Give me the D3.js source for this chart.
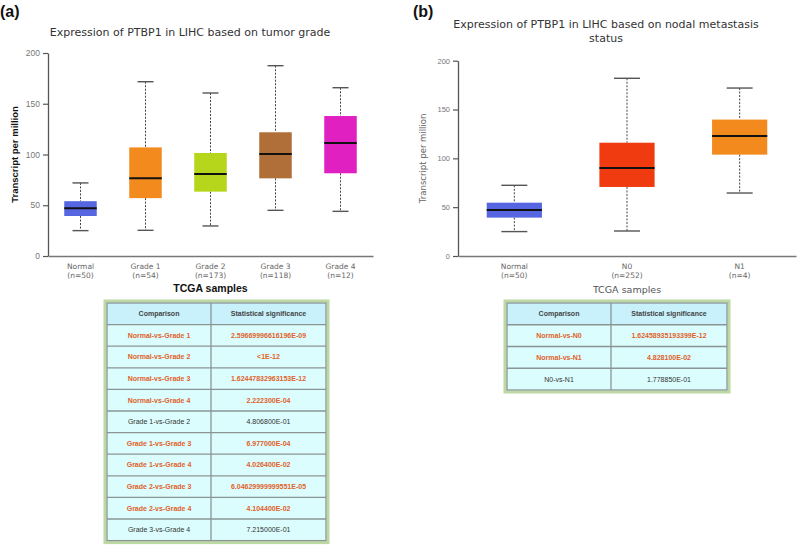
<!DOCTYPE html>
<html>
<head>
<meta charset="utf-8">
<script src="https://cdn.jsdelivr.net/npm/d3@7"></script>
<style>
  body { margin: 0; background: #fff; }
  svg { display: block; }
</style>
</head>
<body>
<script>
// panel (a): tumor grade
const gradeGroups = ["Normal", "Grade 1", "Grade 2", "Grade 3", "Grade 4"];
const gradeN = [50, 54, 173, 118, 12];
const gradeLow = [25, 25.3, 29.6, 45, 44];
const gradeQ1 = [39.4, 57, 63.4, 76.5, 81.5];
const gradeMed = [47, 76.5, 80.8, 100.5, 111.3];
const gradeQ3 = [54, 107, 101.5, 121.9, 137.9];
const gradeHigh = [72, 171.7, 160.6, 187.5, 165.8];
const gradeColors = ["#5566e0", "#f28a1e", "#b5d61a", "#b06e38", "#e020c0"];

// panel (b): nodal metastasis
const nodalGroups = ["Normal", "N0", "N1"];
const nodalN = [50, 252, 4];
const nodalLow = [25, 25.6, 64.5];
const nodalQ1 = [39.3, 70.7, 103.8];
const nodalMed = [47, 90, 123];
const nodalQ3 = [54.6, 116, 139.7];
const nodalHigh = [72.4, 182, 172];
const nodalColors = ["#5566e0", "#f03a10", "#f28a1e"];

const yTicks = [0, 50, 100, 150, 200];

// significance tables
const gradeComparisons = ["Normal-vs-Grade 1", "Normal-vs-Grade 2", "Normal-vs-Grade 3", "Normal-vs-Grade 4",
    "Grade 1-vs-Grade 2", "Grade 1-vs-Grade 3", "Grade 1-vs-Grade 4", "Grade 2-vs-Grade 3",
    "Grade 2-vs-Grade 4", "Grade 3-vs-Grade 4"];
const gradePvalues = ["2.59669996616196E-09", "<1E-12", "1.62447832963153E-12", "2.222300E-04",
    "4.806800E-01", "6.977000E-04", "4.026400E-02", "6.04629999999551E-05", "4.104400E-02", "7.215000E-01"];
const gradeSignificant = [true, true, true, true, false, true, true, true, true, false];

const nodalComparisons = ["Normal-vs-N0", "Normal-vs-N1", "N0-vs-N1"];
const nodalPvalues = ["1.62458935193399E-12", "4.828100E-02", "1.778850E-01"];
const nodalSignificant = [true, true, false];

const svg = d3.select("body").append("svg")
    .attr("width", 800)
    .attr("height", 546);

function drawBoxplot(cfg) {
    const g = svg.append("g");
    const x = d3.scaleBand().domain(cfg.groups).range([cfg.left, cfg.right]);
    const y = d3.scaleLinear().domain([0, 200]).range([256, cfg.top]);
    const bw = x.bandwidth() * cfg.boxFrac;

    const rows = cfg.groups.map((name, i) => ({
        name: name, n: cfg.n[i], low: cfg.low[i], q1: cfg.q1[i], med: cfg.med[i],
        q3: cfg.q3[i], high: cfg.high[i], color: cfg.colors[i]
    }));

    // y axis
    const ya = g.append("g")
        .attr("transform", "translate(" + cfg.left + ",0)")
        .call(d3.axisLeft(y).tickValues(yTicks).tickSize(5).tickSizeOuter(0));
    ya.select(".domain").attr("stroke", "#555").attr("stroke-width", 1.3);
    ya.selectAll(".tick line").attr("stroke", "#555").attr("stroke-width", 1.2);
    ya.selectAll(".tick text")
        .attr("fill", "#777")
        .attr("font-family", "Liberation Sans, Arial, sans-serif")
        .attr("font-size", cfg.yTickSize);

    // x axis
    const xa = g.append("g")
        .attr("transform", "translate(0,256)")
        .call(d3.axisBottom(x).tickSize(0).tickSizeOuter(0).tickPadding(8));
    xa.select(".domain").attr("stroke", "#777").attr("stroke-width", 1.3);
    xa.selectAll(".tick text")
        .attr("fill", "#666")
        .attr("font-family", "DejaVu Sans, sans-serif")
        .attr("font-size", 7.5)
        .each(function (d, i) {
            const t = d3.select(this);
            t.text(null);
            t.append("tspan").attr("x", 0).text(d);
            t.append("tspan").attr("x", 0).attr("dy", "1.2em").text("(n=" + cfg.n[i] + ")");
        });

    // whiskers
    const box = g.selectAll(".box").data(rows).enter().append("g")
        .attr("class", "box")
        .attr("transform", d => "translate(" + (x(d.name) + x.bandwidth() / 2) + ",0)");

    box.append("line")
        .attr("y1", d => y(d.high)).attr("y2", d => y(d.q3))
        .attr("stroke", "#444").attr("stroke-width", 1).attr("stroke-dasharray", "2,1.5");
    box.append("line")
        .attr("y1", d => y(d.q1)).attr("y2", d => y(d.low))
        .attr("stroke", "#444").attr("stroke-width", 1).attr("stroke-dasharray", "2,1.5");
    box.append("line")
        .attr("x1", -cfg.cap).attr("x2", cfg.cap)
        .attr("y1", d => y(d.high)).attr("y2", d => y(d.high))
        .attr("stroke", "#555").attr("stroke-width", 1.4);
    box.append("line")
        .attr("x1", -cfg.cap).attr("x2", cfg.cap)
        .attr("y1", d => y(d.low)).attr("y2", d => y(d.low))
        .attr("stroke", "#555").attr("stroke-width", 1.4);

    box.append("rect")
        .attr("x", -bw / 2).attr("width", bw)
        .attr("y", d => y(d.q3))
        .attr("height", d => y(d.q1) - y(d.q3))
        .attr("fill", d => d.color);
    box.append("line")
        .attr("x1", -bw / 2).attr("x2", bw / 2)
        .attr("y1", d => y(d.med)).attr("y2", d => y(d.med))
        .attr("stroke", "#111").attr("stroke-width", 2);

    // titles
    const title = g.append("text")
        .attr("x", cfg.titleX).attr("y", cfg.titleY)
        .attr("text-anchor", "middle")
        .attr("fill", "#333")
        .attr("font-family", "DejaVu Sans, sans-serif")
        .attr("font-size", 11);
    cfg.title.forEach((line, i) => {
        title.append("tspan").attr("x", cfg.titleX).attr("dy", i === 0 ? 0 : 13.5).text(line);
    });

    g.append("text")
        .attr("x", (cfg.left + cfg.right) / 2).attr("y", cfg.xLabelY)
        .attr("text-anchor", "middle")
        .attr("fill", cfg.bold ? "#111" : "#555")
        .attr("font-family", cfg.bold ? "Liberation Sans, Arial, sans-serif" : "DejaVu Sans, sans-serif")
        .attr("font-weight", cfg.bold ? "bold" : "normal")
        .attr("font-size", cfg.bold ? 10.5 : 9.5)
        .text("TCGA samples");

    g.append("text")
        .attr("transform", "translate(" + cfg.yLabelX + "," + ((256 + cfg.top) / 2) + ") rotate(-90)")
        .attr("text-anchor", "middle")
        .attr("fill", cfg.bold ? "#111" : "#666")
        .attr("font-family", cfg.bold ? "Liberation Sans, Arial, sans-serif" : "DejaVu Sans, sans-serif")
        .attr("font-weight", cfg.bold ? "bold" : "normal")
        .attr("font-size", cfg.bold ? 9.5 : 8.5)
        .text("Transcript per million");

    g.append("text")
        .attr("x", cfg.tagX).attr("y", 17)
        .attr("font-family", "Liberation Sans, Arial, sans-serif")
        .attr("font-weight", "bold")
        .attr("font-size", 16)
        .attr("fill", "#111")
        .text(cfg.tag);
}

function drawTable(cfg) {
    const g = svg.append("g");
    const rowH = cfg.rowH;
    const nRows = cfg.comparisons.length + 1;
    const w = cfg.right - cfg.left;
    const h = rowH * nRows;

    // outer green frame
    g.append("rect")
        .attr("x", cfg.left - 2).attr("y", cfg.top - 2)
        .attr("width", w + 4).attr("height", h + 4)
        .attr("fill", "none").attr("stroke", "#bcd9a4").attr("stroke-width", 3);

    const rows = [{c: "Comparison", p: "Statistical significance", head: true}]
        .concat(cfg.comparisons.map((c, i) => ({c: c, p: cfg.pvalues[i], sig: cfg.significant[i]})));

    const yRow = d3.scaleBand().domain(d3.range(nRows)).range([cfg.top, cfg.top + h]);

    const r = g.selectAll(".row").data(rows).enter().append("g")
        .attr("transform", (d, i) => "translate(0," + yRow(i) + ")");
    r.append("rect")
        .attr("x", cfg.left).attr("width", w).attr("height", rowH)
        .attr("fill", d => d.head ? "#c8f1fb" : "#dcfdfd");

    // grid lines
    rows.forEach((d, i) => {
        if (i > 0) {
            g.append("line")
                .attr("x1", cfg.left).attr("x2", cfg.right)
                .attr("y1", yRow(i)).attr("y2", yRow(i))
                .attr("stroke", "#8a9595").attr("stroke-width", 1.3);
        }
    });
    g.append("line")
        .attr("x1", cfg.split).attr("x2", cfg.split)
        .attr("y1", cfg.top).attr("y2", cfg.top + h)
        .attr("stroke", "#8a9595").attr("stroke-width", 1.3);
    g.append("rect")
        .attr("x", cfg.left).attr("y", cfg.top)
        .attr("width", w).attr("height", h)
        .attr("fill", "none").attr("stroke", "#8a9595").attr("stroke-width", 1.3);

    const cells = [[d => d.c, (cfg.left + cfg.split) / 2], [d => d.p, (cfg.split + cfg.right) / 2]];
    cells.forEach(([acc, cx]) => {
        r.append("text")
            .attr("x", cx).attr("y", rowH / 2 + 2.5)
            .attr("text-anchor", "middle")
            .attr("font-family", "Liberation Sans, Arial, sans-serif")
            .attr("font-size", 7)
            .attr("font-weight", d => (d.head || d.sig) ? "bold" : "normal")
            .attr("fill", d => d.head ? "#444" : (d.sig ? "#e0612a" : "#333"))
            .text(acc);
    });
}

drawBoxplot({
    groups: gradeGroups, n: gradeN, low: gradeLow, q1: gradeQ1, med: gradeMed, q3: gradeQ3,
    high: gradeHigh, colors: gradeColors,
    left: 48, right: 373, top: 53, boxFrac: 0.5, cap: 8, yTickSize: 8.5,
    title: ["Expression of PTBP1 in LIHC based on tumor grade"], titleX: 190, titleY: 36,
    xLabelY: 292, yLabelX: 18, bold: true, tag: "(a)", tagX: 0
});

drawBoxplot({
    groups: nodalGroups, n: nodalN, low: nodalLow, q1: nodalQ1, med: nodalMed, q3: nodalQ3,
    high: nodalHigh, colors: nodalColors,
    left: 458, right: 796, top: 60.7, boxFrac: 0.49, cap: 13, yTickSize: 7.5,
    title: ["Expression of PTBP1 in LIHC based on nodal metastasis", "status"], titleX: 606, titleY: 28,
    xLabelY: 293, yLabelX: 426, bold: false, tag: "(b)", tagX: 413
});

drawTable({
    comparisons: gradeComparisons, pvalues: gradePvalues, significant: gradeSignificant,
    left: 107, right: 326, split: 211, top: 303, rowH: 21.6
});

drawTable({
    comparisons: nodalComparisons, pvalues: nodalPvalues, significant: nodalSignificant,
    left: 507, right: 727, split: 611, top: 303, rowH: 21.75
});
</script>
</body>
</html>
